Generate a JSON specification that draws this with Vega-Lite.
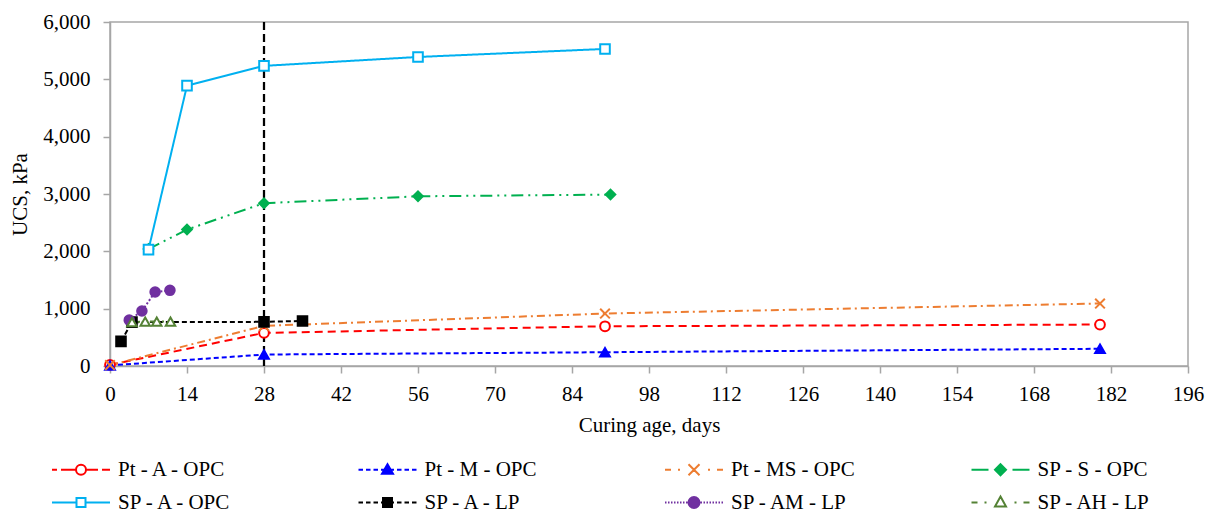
{
  "$schema": "https://vega.github.io/schema/vega-lite/v6.json",
  "autosize": {"type": "none"},
  "padding": {"left": 110, "top": 22, "right": 27, "bottom": 147},
  "width": 1078,
  "height": 344,
  "background": "white",
  "datasets": {
    "ucs": [
      {"series": "Pt - A - OPC", "day": 0, "ucs": 20},
      {"series": "Pt - A - OPC", "day": 28, "ucs": 578},
      {"series": "Pt - A - OPC", "day": 90, "ucs": 693},
      {"series": "Pt - A - OPC", "day": 180, "ucs": 723},
      {"series": "Pt - M - OPC", "day": 0, "ucs": 10},
      {"series": "Pt - M - OPC", "day": 28, "ucs": 200},
      {"series": "Pt - M - OPC", "day": 90, "ucs": 240},
      {"series": "Pt - M - OPC", "day": 180, "ucs": 300},
      {"series": "Pt - MS - OPC", "day": 0, "ucs": 15},
      {"series": "Pt - MS - OPC", "day": 28, "ucs": 700},
      {"series": "Pt - MS - OPC", "day": 90, "ucs": 915},
      {"series": "Pt - MS - OPC", "day": 180, "ucs": 1090},
      {"series": "SP - S - OPC", "day": 7, "ucs": 2040},
      {"series": "SP - S - OPC", "day": 14, "ucs": 2380},
      {"series": "SP - S - OPC", "day": 28, "ucs": 2840},
      {"series": "SP - S - OPC", "day": 56, "ucs": 2960},
      {"series": "SP - S - OPC", "day": 91, "ucs": 2990},
      {"series": "SP - A - OPC", "day": 7, "ucs": 2030},
      {"series": "SP - A - OPC", "day": 14, "ucs": 4890},
      {"series": "SP - A - OPC", "day": 28, "ucs": 5235},
      {"series": "SP - A - OPC", "day": 56, "ucs": 5390},
      {"series": "SP - A - OPC", "day": 90, "ucs": 5530},
      {"series": "SP - A - LP", "day": 2, "ucs": 430},
      {"series": "SP - A - LP", "day": 4, "ucs": 765},
      {"series": "SP - A - LP", "day": 28, "ucs": 770},
      {"series": "SP - A - LP", "day": 35, "ucs": 785},
      {"series": "SP - AM - LP", "day": 3.5, "ucs": 800},
      {"series": "SP - AM - LP", "day": 5.8, "ucs": 960},
      {"series": "SP - AM - LP", "day": 8.2, "ucs": 1290},
      {"series": "SP - AM - LP", "day": 10.9, "ucs": 1320},
      {"series": "SP - AH - LP", "day": 4, "ucs": 765},
      {"series": "SP - AH - LP", "day": 6.4, "ucs": 775},
      {"series": "SP - AH - LP", "day": 8.5, "ucs": 775},
      {"series": "SP - AH - LP", "day": 11, "ucs": 775}
    ],
    "marker": [{"day": 28}]
  },
  "layer": [
    {
      "data": {"name": "marker"},
      "mark": {"type": "rule", "color": "#000000", "strokeWidth": 2.25, "strokeDash": [8, 4]},
      "encoding": {
        "x": {"field": "day", "type": "quantitative", "scale": {"domain": [0, 196], "nice": false}}
      }
    },
    {
      "data": {"name": "ucs"},
      "mark": {"type": "line", "strokeWidth": 2},
      "encoding": {
        "x": {
          "field": "day", "type": "quantitative",
          "scale": {"domain": [0, 196], "nice": false},
          "axis": {
            "title": "Curing age, days",
            "values": [0, 14, 28, 42, 56, 70, 84, 98, 112, 126, 140, 154, 168, 182, 196],
            "labelPadding": 10, "titlePadding": 10, "labelFlush": false, "labelOverlap": false
          }
        },
        "y": {
          "field": "ucs", "type": "quantitative",
          "scale": {"domain": [0, 6000], "nice": false},
          "axis": {
            "title": "UCS, kPa",
            "values": [0, 1000, 2000, 3000, 4000, 5000, 6000],
            "format": ",.0f", "labelPadding": 13, "titlePadding": 12
          }
        },
        "color": {
          "field": "series", "type": "nominal", "legend": null,
          "scale": {
            "domain": ["Pt - A - OPC", "Pt - M - OPC", "Pt - MS - OPC", "SP - S - OPC", "SP - A - OPC", "SP - A - LP", "SP - AM - LP", "SP - AH - LP"],
            "range": ["#FF0000", "#0000FF", "#ED7D31", "#00B050", "#00B0F0", "#000000", "#7030A0", "#548235"]
          }
        },
        "strokeDash": {
          "field": "series", "type": "nominal", "legend": null,
          "scale": {
            "domain": ["Pt - A - OPC", "Pt - M - OPC", "Pt - MS - OPC", "SP - S - OPC", "SP - A - OPC", "SP - A - LP", "SP - AM - LP", "SP - AH - LP"],
            "range": [[8, 5], [5, 3], [8, 4, 2, 4], [12, 5, 2, 5, 2, 5], [1, 0], [5, 3], [2, 2], [8, 4, 2, 4]]
          }
        }
      }
    },
    {
      "data": {"name": "ucs"},
      "mark": {"type": "point", "filled": false, "strokeWidth": 2, "opacity": 1},
      "encoding": {
        "x": {"field": "day", "type": "quantitative"},
        "y": {"field": "ucs", "type": "quantitative"},
        "stroke": {
          "field": "series", "type": "nominal", "legend": null,
          "scale": {
            "domain": ["Pt - A - OPC", "Pt - M - OPC", "Pt - MS - OPC", "SP - S - OPC", "SP - A - OPC", "SP - A - LP", "SP - AM - LP", "SP - AH - LP"],
            "range": ["#FF0000", "#0000FF", "#ED7D31", "#00B050", "#00B0F0", "#000000", "#7030A0", "#548235"]
          }
        },
        "fill": {
          "field": "series", "type": "nominal", "legend": null,
          "scale": {
            "domain": ["Pt - A - OPC", "Pt - M - OPC", "Pt - MS - OPC", "SP - S - OPC", "SP - A - OPC", "SP - A - LP", "SP - AM - LP", "SP - AH - LP"],
            "range": ["#FFFFFF", "#0000FF", "transparent", "#00B050", "#FFFFFF", "#000000", "#7030A0", "#FFFFFF"]
          }
        },
        "size": {
          "field": "series", "type": "nominal", "legend": null,
          "scale": {
            "domain": ["Pt - A - OPC", "Pt - M - OPC", "Pt - MS - OPC", "SP - S - OPC", "SP - A - OPC", "SP - A - LP", "SP - AM - LP", "SP - AH - LP"],
            "range": [95, 90, 100, 100, 130, 110, 120, 100]
          }
        },
        "shape": {
          "field": "series", "type": "nominal", "legend": null,
          "scale": {
            "domain": ["Pt - A - OPC", "Pt - M - OPC", "Pt - MS - OPC", "SP - S - OPC", "SP - A - OPC", "SP - A - LP", "SP - AM - LP", "SP - AH - LP"],
            "range": ["circle", "triangle-up", "M-1,-1L1,1M-1,1L1,-1", "diamond", "square", "square", "circle", "triangle-up"]
          }
        }
      }
    },
    {
      "data": {"name": "ucs"},
      "mark": {"type": "point", "filled": false, "strokeWidth": 2, "opacity": 0},
      "encoding": {
        "x": {"field": "day", "type": "quantitative"},
        "y": {"field": "ucs", "type": "quantitative"},
        "shape": {
          "field": "series", "type": "nominal",
          "scale": {
            "domain": ["Pt - A - OPC", "Pt - M - OPC", "Pt - MS - OPC", "SP - S - OPC", "SP - A - OPC", "SP - A - LP", "SP - AM - LP", "SP - AH - LP"],
            "range": [
              "M-5.8,0H-4.8M-4,0H-1.1M1.1,0H3.4M4.2,0H5.8M1,0A1,1,0,1,1,-1,0A1,1,0,1,1,1,0Z",
              "M-5.8,0H-4.9M-4.3,0H-3.4M-2.8,0H-1.9M-1.3,0H-0.5M0.5,0H1.3M1.9,0H2.8M3.4,0H4.3M4.9,0H5.8M0,-1.1L1.1,0.8L-1.1,0.8Z",
              "M-5.8,0H-4.6M-3.2,0H-2.8M2.8,0H3.2M4.6,0H5.8M-1.1,-1.1L1.1,1.1M-1.1,1.1L1.1,-1.1",
              "M-5.8,0H-2.4M2.4,0H5.8M0,-1.1L1.1,0L0,1.1L-1.1,0Z",
              "M-5.8,0H-0.9M0.9,0H5.8M-0.9,-0.9H0.9V0.9H-0.9Z",
              "M-5.8,0H-4.9M-4.3,0H-3.4M-2.8,0H-1.9M-1.3,0H-0.5M0.5,0H1.3M1.9,0H2.8M3.4,0H4.3M4.9,0H5.8M-0.9,-0.9H0.9V0.9H-0.9Z",
              "M-5.8,0H-5.5M-5.2,0H-4.9M-4.6,0H-4.3M-4,0H-3.7M-3.4,0H-3.1M-2.8,0H-2.5M-2.2,0H-1.9M-1.6,0H-1.3M1.3,0H1.6M1.9,0H2.2M2.5,0H2.8M3.1,0H3.4M3.7,0H4M4.3,0H4.6M4.9,0H5.2M5.5,0H5.8M1.1,0A1.1,1.1,0,1,1,-1.1,0A1.1,1.1,0,1,1,1.1,0Z",
              "M-5.8,0H-4.6M-3.2,0H-2.8M2.8,0H3.2M4.6,0H5.8M0,-1.2L1.1,0.8L-1.1,0.8Z"
            ]
          },
          "legend": {
            "title": null, "orient": "none", "legendX": -64.5, "legendY": 437,
            "direction": "horizontal", "columns": 4, "gridAlign": "all",
            "columnPadding": 109.5, "rowPadding": 11,
            "symbolSize": 100, "symbolOffset": 25, "labelOffset": 26.5,
            "symbolOpacity": 1, "symbolStrokeWidth": 2,
            "labelFont": "Liberation Serif", "labelFontSize": 21, "labelColor": "#000000",
            "labelLimit": 300, "padding": 0
          }
        },
        "stroke": {
          "field": "series", "type": "nominal",
          "scale": {
            "domain": ["Pt - A - OPC", "Pt - M - OPC", "Pt - MS - OPC", "SP - S - OPC", "SP - A - OPC", "SP - A - LP", "SP - AM - LP", "SP - AH - LP"],
            "range": ["#FF0000", "#0000FF", "#ED7D31", "#00B050", "#00B0F0", "#000000", "#7030A0", "#548235"]
          },
          "legend": {
            "title": null, "orient": "none", "legendX": -64.5, "legendY": 437,
            "direction": "horizontal", "columns": 4, "gridAlign": "all",
            "columnPadding": 109.5, "rowPadding": 11,
            "symbolSize": 100, "symbolOffset": 25, "labelOffset": 26.5,
            "symbolOpacity": 1, "symbolStrokeWidth": 2,
            "labelFont": "Liberation Serif", "labelFontSize": 21, "labelColor": "#000000",
            "labelLimit": 300, "padding": 0
          }
        },
        "fill": {
          "field": "series", "type": "nominal",
          "scale": {
            "domain": ["Pt - A - OPC", "Pt - M - OPC", "Pt - MS - OPC", "SP - S - OPC", "SP - A - OPC", "SP - A - LP", "SP - AM - LP", "SP - AH - LP"],
            "range": ["#FFFFFF", "#0000FF", "transparent", "#00B050", "#FFFFFF", "#000000", "#7030A0", "#FFFFFF"]
          },
          "legend": {
            "title": null, "orient": "none", "legendX": -64.5, "legendY": 437,
            "direction": "horizontal", "columns": 4, "gridAlign": "all",
            "columnPadding": 109.5, "rowPadding": 11,
            "symbolSize": 100, "symbolOffset": 25, "labelOffset": 26.5,
            "symbolOpacity": 1, "symbolStrokeWidth": 2,
            "labelFont": "Liberation Serif", "labelFontSize": 21, "labelColor": "#000000",
            "labelLimit": 300, "padding": 0
          }
        }
      }
    }
  ],
  "resolve": {"scale": {"shape": "independent", "stroke": "independent", "fill": "independent", "size": "independent"}},
  "config": {
    "view": {"stroke": "#A6A6A6", "strokeWidth": 1.5},
    "axis": {
      "grid": false,
      "domainColor": "#A6A6A6", "domainWidth": 1.5,
      "tickColor": "#A6A6A6", "tickWidth": 1.5, "tickSize": 7,
      "labelFont": "Liberation Serif", "labelFontSize": 21, "labelColor": "#000000",
      "titleFont": "Liberation Serif", "titleFontSize": 21, "titleFontWeight": "normal", "titleColor": "#000000"
    }
  }
}
